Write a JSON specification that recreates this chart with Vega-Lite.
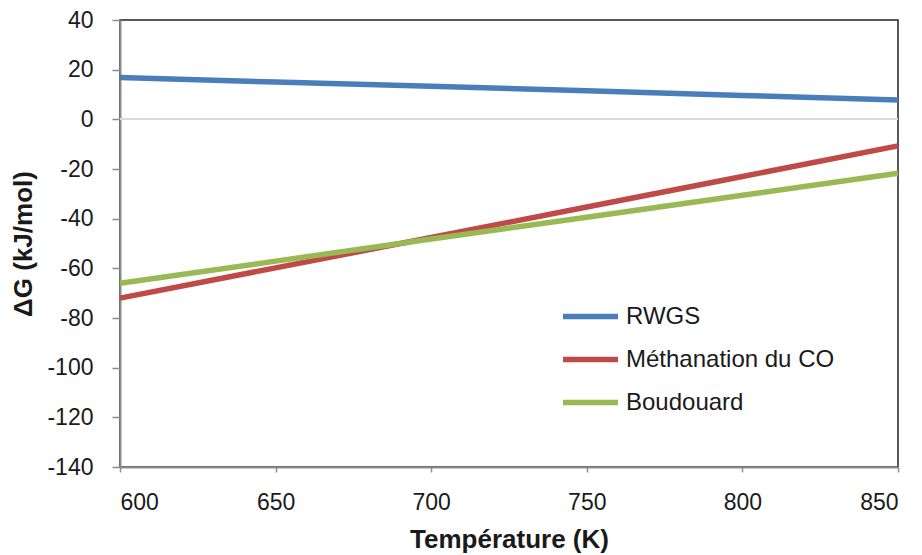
{
  "$schema": "https://vega.github.io/schema/vega-lite/v6.json",
  "width": 778,
  "height": 447,
  "autosize": "none",
  "padding": {"left": 120, "top": 20, "right": 24, "bottom": 88},
  "background": "white",
  "config": {
    "font": "Liberation Sans",
    "view": {"stroke": "#222222", "strokeWidth": 1.5}
  },
  "data": {
    "values": [
      {"T": 600, "dG": 16.8, "reaction": "RWGS"},
      {"T": 650, "dG": 15.0, "reaction": "RWGS"},
      {"T": 700, "dG": 13.3, "reaction": "RWGS"},
      {"T": 750, "dG": 11.5, "reaction": "RWGS"},
      {"T": 800, "dG": 9.6, "reaction": "RWGS"},
      {"T": 850, "dG": 7.8, "reaction": "RWGS"},
      {"T": 600, "dG": -72.0, "reaction": "Méthanation du CO"},
      {"T": 650, "dG": -59.8, "reaction": "Méthanation du CO"},
      {"T": 700, "dG": -47.6, "reaction": "Méthanation du CO"},
      {"T": 750, "dG": -35.3, "reaction": "Méthanation du CO"},
      {"T": 800, "dG": -23.0, "reaction": "Méthanation du CO"},
      {"T": 850, "dG": -10.7, "reaction": "Méthanation du CO"},
      {"T": 600, "dG": -66.0, "reaction": "Boudouard"},
      {"T": 650, "dG": -57.1, "reaction": "Boudouard"},
      {"T": 700, "dG": -48.2, "reaction": "Boudouard"},
      {"T": 750, "dG": -39.4, "reaction": "Boudouard"},
      {"T": 800, "dG": -30.6, "reaction": "Boudouard"},
      {"T": 850, "dG": -21.7, "reaction": "Boudouard"}
    ]
  },
  "layer": [
    {
      "mark": {"type": "rule", "color": "#d9d9d9", "strokeWidth": 1.5},
      "encoding": {"y": {"datum": 0, "type": "quantitative", "scale": {"domain": [-140, 40]}}}
    },
    {
      "mark": {"type": "line", "strokeWidth": 5.5, "strokeCap": "butt"},
      "encoding": {
        "x": {
          "field": "T", "type": "quantitative",
          "scale": {"domain": [600, 850], "nice": false, "zero": false},
          "axis": {
            "title": "Température (K)", "titleFontSize": 26, "titleFontWeight": "bold", "titleColor": "#1a1a1a",
            "titlePadding": 12,
            "values": [600, 650, 700, 750, 800, 850],
            "labelFontSize": 23, "labelColor": "#1a1a1a", "labelPadding": 19,
            "domainColor": "#8c8c8c", "domainWidth": 2,
            "tickColor": "#8c8c8c", "tickSize": 5, "tickWidth": 1.5,
            "grid": false
          }
        },
        "y": {
          "field": "dG", "type": "quantitative",
          "scale": {"domain": [-140, 40], "nice": false},
          "axis": {
            "title": "ΔG (kJ/mol)", "titleFontSize": 26, "titleFontWeight": "bold", "titleColor": "#1a1a1a",
            "titlePadding": 10,
            "values": [-140, -120, -100, -80, -60, -40, -20, 0, 20, 40],
            "labelExpr": "replace(datum.label, '−', '-')",
            "labelFontSize": 23, "labelColor": "#1a1a1a", "labelPadding": 19,
            "domainColor": "#8c8c8c", "domainWidth": 2,
            "tickColor": "#8c8c8c", "tickSize": 8, "tickWidth": 1.5,
            "grid": false
          }
        },
        "color": {
          "field": "reaction", "type": "nominal",
          "scale": {
            "domain": ["RWGS", "Méthanation du CO", "Boudouard"],
            "range": ["#4a7ebb", "#be4b48", "#98b954"]
          },
          "legend": {
            "title": null,
            "orient": "none",
            "legendX": 440,
            "legendY": 266,
            "symbolType": "stroke",
            "symbolSize": 3025,
            "symbolStrokeWidth": 5.5,
            "labelFontSize": 24,
            "labelColor": "#1a1a1a",
            "labelOffset": 5,
            "labelLimit": 400,
            "rowPadding": 0
          }
        }
      }
    }
  ]
}
